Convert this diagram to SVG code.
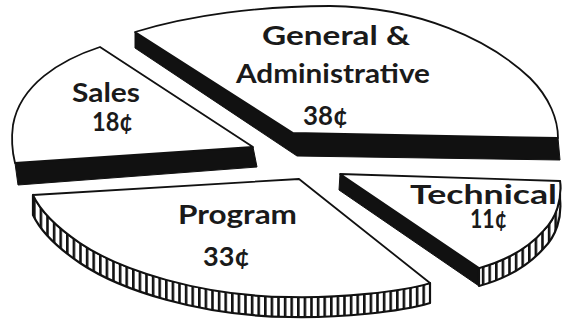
<svg xmlns="http://www.w3.org/2000/svg" width="565" height="334" viewBox="0 0 565 334">
<style>
.face{fill:#fff;stroke:#111;stroke-width:1.8;stroke-linejoin:round}
.side{fill:#111;stroke:#111;stroke-width:1;stroke-linejoin:round}
.mill{fill:url(#ridges);stroke:#111;stroke-width:2.2;stroke-linejoin:round}
.label{font-family:"Lato","DejaVu Sans",sans-serif;font-weight:bold;font-size:26px;fill:#1a1a1a}
</style>
<defs>
<pattern id="ridges" patternUnits="userSpaceOnUse" width="6.6" height="40">
<rect width="6.6" height="40" fill="#fff"/>
<rect x="0" width="2.6" height="40" fill="#111"/>
</pattern>
</defs>
<rect width="565" height="334" fill="#fff"/>
<g id="slice-ga">
<polygon class="side" points="135,32 293,133 558,138 560,160 297,156 135,48"/>
<path class="face" d="M135,32 C190,15 260,6 330,6 C420,7 490,40 530,78 C550,98 558,120 558,138 L293,133 Z"/>
<text class="label" x="262" y="45" textLength="148" lengthAdjust="spacingAndGlyphs">General &amp;</text>
<text class="label" x="236" y="83" textLength="194" lengthAdjust="spacingAndGlyphs">Administrative</text>
<text class="label" x="303" y="125" textLength="45" lengthAdjust="spacingAndGlyphs">38¢</text>
</g>
<g id="slice-sales">
<polygon class="side" points="15,163 253,147 257,167 18,185"/>
<path class="face" d="M100,47 C60,60 20,85 13,125 C11,140 13,155 15,163 L253,147 Z"/>
<text class="label" x="72" y="102" textLength="68" lengthAdjust="spacingAndGlyphs">Sales</text>
<text class="label" x="92" y="131" textLength="41" lengthAdjust="spacingAndGlyphs">18¢</text>
</g>
<g id="slice-program">
<path class="mill" d="M430,283 C400,292 340,298 290,297 C200,296 120,270 80,243 C55,226 40,210 33,195 L33,215 C40,230 55,246 80,263 C120,290 200,316 290,317 C340,318 400,312 430,303 Z"/>
<path class="face" d="M33,195 L299,179 L430,283 C400,292 340,298 290,297 C200,296 120,270 80,243 C55,226 40,210 33,195 Z"/>
<text class="label" x="178" y="224" textLength="119" lengthAdjust="spacingAndGlyphs">Program</text>
<text class="label" x="203" y="266" textLength="47" lengthAdjust="spacingAndGlyphs">33¢</text>
</g>
<g id="slice-technical">
<polygon class="side" points="340,174 479,268 479,286 339,190"/>
<path class="mill" d="M479,268 C508,260 530,246 544,230 C556,218 562,200 560,181 L560,199 C562,218 556,236 544,248 C530,264 508,278 479,286 Z"/>
<path class="face" d="M340,174 L560,181 C562,200 556,218 544,230 C530,246 508,260 479,268 Z"/>
<text class="label" x="410" y="204" textLength="147" lengthAdjust="spacingAndGlyphs">Technical</text>
<text class="label" x="470" y="228" textLength="37" lengthAdjust="spacingAndGlyphs">11¢</text>
</g>
</svg>
